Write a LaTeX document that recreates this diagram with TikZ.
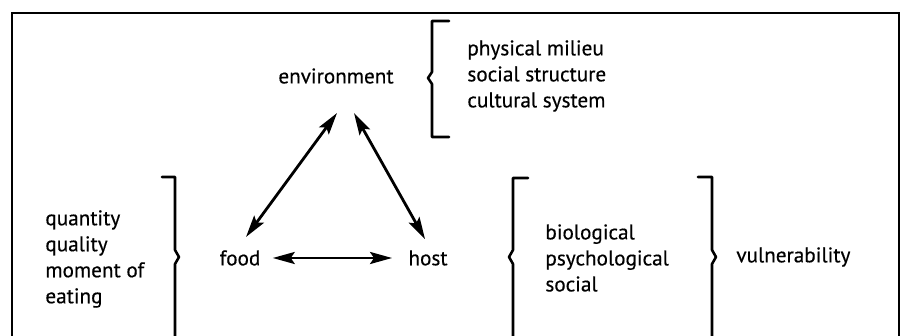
\documentclass[tikz,border=0pt]{standalone}
\usepackage{fontspec}
\setmainfont{PT Sans}[FakeBold=0.4]
\usetikzlibrary{arrows.meta}

\begin{document}
\begin{tikzpicture}[x=0.5pt,y=-0.5pt,
  word/.style={inner sep=0pt,font=\fontsize{10.6}{13}\selectfont},
  list/.style={word,align=left},
  link/.style={{Stealth[length=11pt,width=6pt,inset=2pt]}-{Stealth[length=11pt,width=6pt,inset=2pt]},line width=1.4pt,black},
  brace/.style={line width=1.3pt,black,line join=round,line cap=round}]

\useasboundingbox (0,0) rectangle (907,336);
\draw [line width=1.3pt] (12,336)--(12,13)--(899,13)--(899,336);


\node [word](env)  at (336,76) {environment};
\node [word](food)  at (240,258) {food};
\node [word](host)  at (428,258) {host};

\node [list,anchor=west](envlist)  at (467,76) {physical milieu\\social structure\\cultural system};
\node [list,anchor=west](foodlist)  at (45,259) {quantity\\quality\\moment of\\eating};
\node [list,anchor=west](hostlist)  at (545,258) {biological\\psychological\\social};
\node [word,anchor=west](vuln)  at (736,257) {vulnerability};


\draw [brace] (449,21)--(432,21)--(432,72)--(428,78)--(432,84)--(432,137)--(449,137);
\draw [brace] (162,177)--(175,177)--(175,250)--(179,257)--(175,264)--(175,336);
\draw [brace] (528,178)--(513,178)--(513,250)--(509,257)--(513,264)--(513,336);
\draw [brace] (698,177)--(712,177)--(712,250)--(716,257)--(712,264)--(712,336);


\draw [link] ([xshift=0.5pt,yshift=-14.5pt]env.south)--([xshift=3pt,yshift=6.5pt]food.north);
\draw [link] ([xshift=9pt,yshift=-14.5pt]env.south)--([xshift=-1.5pt,yshift=5.5pt]host.north);
\draw [link] ([xshift=6pt]food.east)--([xshift=-8pt]host.west);



\end{tikzpicture}
\end{document}
